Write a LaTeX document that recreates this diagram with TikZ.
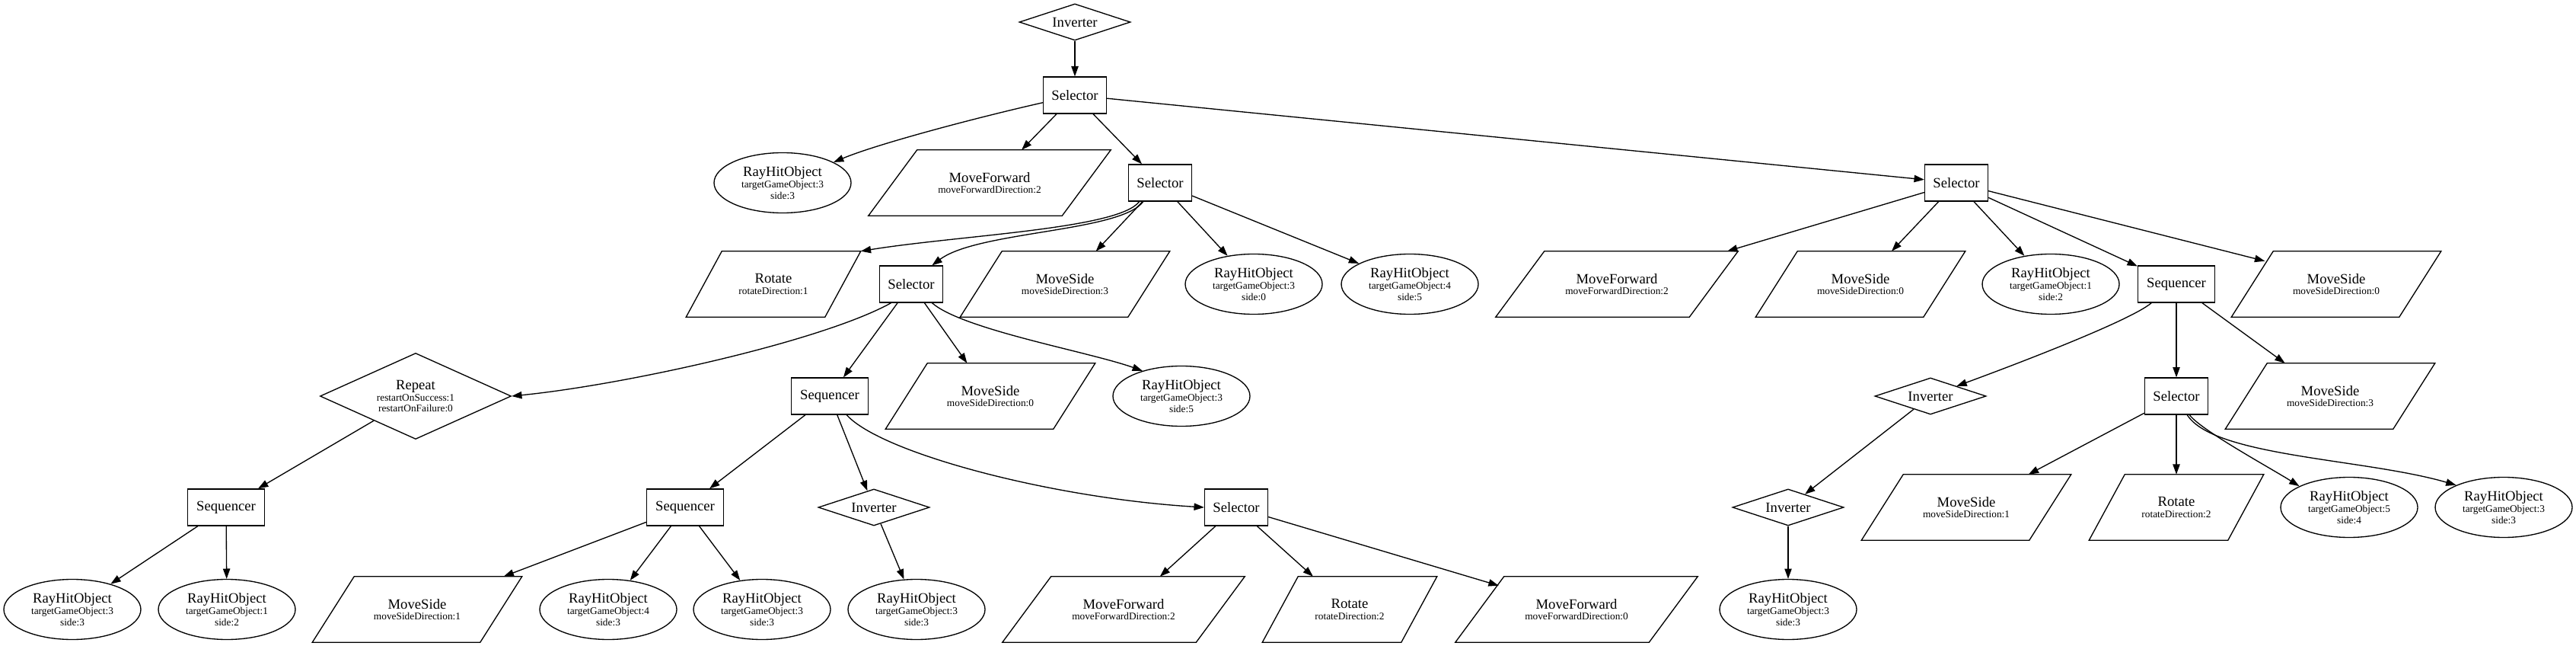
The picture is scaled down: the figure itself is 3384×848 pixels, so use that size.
\documentclass[tikz,border=0pt]{standalone}
\usepackage{fontspec}
\setmainfont{Liberation Serif}
\usetikzlibrary{shapes.geometric,arrows.meta}
\newcommand{\mainlab}[1]{{\fontsize{14}{16}\selectfont #1}}
\newcommand{\pgram}[2]{\draw[line width=1pt, line join=miter] (#1.south west) -- ([xshift=#2]#1.north west) -- (#1.north east) -- ([xshift=-#2]#1.south east) -- cycle;}
\tikzset{
  base/.style={draw, line width=1pt, fill=white, inner sep=0pt, align=center,
               font=\fontsize{10}{11}\selectfont},
  selb/.style={base, rectangle, minimum height=36pt, minimum width=62.25pt, font=\fontsize{14}{16}\selectfont},
  seqb/.style={base, rectangle, minimum height=36pt, minimum width=75.75pt, font=\fontsize{14}{16}\selectfont},
  dia/.style={base, diamond, shape aspect=2, minimum height=36pt, minimum width=109.5pt, font=\fontsize{14}{16}\selectfont},
  repd/.style={base, diamond, shape aspect=2, minimum height=84.75pt, minimum width=188.25pt},
  ell/.style={base, ellipse, minimum width=135pt, minimum height=59.25pt},
  par/.style={rectangle, inner sep=0pt, align=center, font=\fontsize{10}{11}\selectfont, minimum height=64.5pt},
  mf/.style={par, minimum width=238.5pt},
  ms/.style={par, minimum width=206.25pt},
  rot/.style={par, minimum width=171.75pt},
  arr/.style={draw, line width=1pt, -{Triangle[length=10pt,width=7pt]}}
}
\begin{document}
\begin{tikzpicture}[x=0.75pt,y=0.75pt]
\useasboundingbox (0,0) rectangle (3384,-848);
\fill[white] (0,0) rectangle (3384,-848);
% rank 0,1
\node[dia] (inv0) at (1412,-29) {Inverter};
\node[selb] (sel1) at (1412,-125) {Selector};
% rank 2
\node[ell] (rhoa) at (1028,-240) {\mainlab{RayHitObject}\\targetGameObject:3\\side:3};
\node[mf] (mfa) at (1300,-240) {\mainlab{MoveForward}\\moveForwardDirection:2};
\node[selb] (sel2) at (1524,-240) {Selector};
\node[selb] (sel3) at (2570,-240) {Selector};
% rank 3
\node[rot] (rota) at (1016,-373) {\mainlab{Rotate}\\rotateDirection:1};
\node[selb] (sel4) at (1197,-373) {Selector};
\node[ms] (msa) at (1399,-373) {\mainlab{MoveSide}\\moveSideDirection:3};
\node[ell] (rhob) at (1647,-373) {\mainlab{RayHitObject}\\targetGameObject:3\\side:0};
\node[ell] (rhoc) at (1852,-373) {\mainlab{RayHitObject}\\targetGameObject:4\\side:5};
\node[mf] (mfb) at (2124,-373) {\mainlab{MoveForward}\\moveForwardDirection:2};
\node[ms] (msb) at (2444,-373) {\mainlab{MoveSide}\\moveSideDirection:0};
\node[ell] (rhod) at (2694,-373) {\mainlab{RayHitObject}\\targetGameObject:1\\side:2};
\node[seqb] (seqr) at (2859,-373) {Sequencer};
\node[ms] (msc) at (3069,-373) {\mainlab{MoveSide}\\moveSideDirection:0};
% rank 4
\node[repd] (rep) at (546,-520) {\mainlab{Repeat}\\restartOnSuccess:1\\restartOnFailure:0};
\node[seqb] (seqm) at (1090,-520) {Sequencer};
\node[ms] (msd) at (1301,-520) {\mainlab{MoveSide}\\moveSideDirection:0};
\node[ell] (rhoe) at (1552,-520) {\mainlab{RayHitObject}\\targetGameObject:3\\side:5};
\node[dia] (invr1) at (2536,-520) {Inverter};
\node[selb] (selr) at (2859,-520) {Selector};
\node[ms] (mse) at (3061,-520) {\mainlab{MoveSide}\\moveSideDirection:3};
% rank 5
\node[seqb] (seql) at (297,-666) {Sequencer};
\node[seqb] (seqlo) at (900,-666) {Sequencer};
\node[dia] (invm) at (1148,-666) {Inverter};
\node[selb] (sello) at (1624,-666) {Selector};
\node[dia] (invr2) at (2349,-666) {Inverter};
\node[ms] (msf) at (2583,-666) {\mainlab{MoveSide}\\moveSideDirection:1};
\node[rot] (rotb) at (2859,-666) {\mainlab{Rotate}\\rotateDirection:2};
\node[ell] (rhof) at (3086,-666) {\mainlab{RayHitObject}\\targetGameObject:5\\side:4};
\node[ell] (rhog) at (3289,-666) {\mainlab{RayHitObject}\\targetGameObject:3\\side:3};
% rank 6
\node[ell] (rhoh) at (95,-800) {\mainlab{RayHitObject}\\targetGameObject:3\\side:3};
\node[ell] (rhoi) at (298,-800) {\mainlab{RayHitObject}\\targetGameObject:1\\side:2};
\node[ms] (msg) at (548,-800) {\mainlab{MoveSide}\\moveSideDirection:1};
\node[ell] (rhoj) at (799,-800) {\mainlab{RayHitObject}\\targetGameObject:4\\side:3};
\node[ell] (rhok) at (1001,-800) {\mainlab{RayHitObject}\\targetGameObject:3\\side:3};
\node[ell] (rhol) at (1204,-800) {\mainlab{RayHitObject}\\targetGameObject:3\\side:3};
\node[mf] (mfc) at (1476,-800) {\mainlab{MoveForward}\\moveForwardDirection:2};
\node[rot] (rotc) at (1773,-800) {\mainlab{Rotate}\\rotateDirection:2};
\node[mf] (mfd) at (2071,-800) {\mainlab{MoveForward}\\moveForwardDirection:0};
\node[ell] (rhom) at (2349,-800) {\mainlab{RayHitObject}\\targetGameObject:3\\side:3};
% parallelogram outlines
\pgram{mfa}{48pt} \pgram{mfb}{48pt} \pgram{mfc}{48pt} \pgram{mfd}{48pt}
\pgram{msa}{41.25pt} \pgram{msb}{41.25pt} \pgram{msc}{41.25pt} \pgram{msd}{41.25pt}
\pgram{mse}{41.25pt} \pgram{msf}{41.25pt} \pgram{msg}{41.25pt}
\pgram{rota}{35.25pt} \pgram{rotb}{35.25pt} \pgram{rotc}{35.25pt}
% edges
\draw[arr] (inv0) -- (sel1);
\draw[arr] (sel1.193) .. controls +(-80,-18) and +(60,25) .. (rhoa.22);
\draw[arr] (sel1) -- (mfa);
\draw[arr] (sel1) -- (sel2);
\draw[arr] (sel1) -- (sel3);
\draw[arr] (sel2.222) .. controls +(-27,-36) and +(130,21) .. (rota.north east);
\draw[arr] (sel2.228) .. controls +(-30,-40) and +(60,45) .. (sel4.42);
\draw[arr] (sel2) -- (msa);
\draw[arr] (sel2) -- (rhob);
\draw[arr] (sel2) -- (rhoc);
\draw[arr] (sel4.223) .. controls +(-90,-50) and +(150,15) .. (rep.east);
\draw[arr] (sel4) -- (seqm);
\draw[arr] (sel4) -- (msd);
\draw[arr] (sel4.318) .. controls +(40,-35) and +(-70,25) .. (rhoe.147);
\draw[arr] (rep) -- (seql);
\draw[arr] (seql) -- (rhoh);
\draw[arr] (seql) -- (rhoi);
\draw[arr] (seqm) -- (seqlo);
\draw[arr] (seqm) -- (invm);
\draw[arr] (seqm.312) .. controls +(45,-50) and +(-200,12) .. (sello.west);
\draw[arr] (seqlo) -- (msg);
\draw[arr] (seqlo) -- (rhoj);
\draw[arr] (seqlo) -- (rhok);
\draw[arr] (invm) -- (rhol);
\draw[arr] (sello) -- (mfc);
\draw[arr] (sello) -- (rotc);
\draw[arr] (sello) -- ([xshift=42.75pt,yshift=-9pt]mfd.north west);
\draw[arr] (sel3) -- (mfb);
\draw[arr] (sel3) -- (msb);
\draw[arr] (sel3) -- (rhod);
\draw[arr] (sel3) -- (seqr);
\draw[arr] (sel3) -- ([xshift=33pt,yshift=-9.75pt]msc.north west);
\draw[arr] (seqr.217) .. controls +(-30,-25) and +(60,22) .. (invr1.21);
\draw[arr] (seqr) -- (selr);
\draw[arr] (seqr) -- (mse);
\draw[arr] (invr1) -- (invr2);
\draw[arr] (invr2) -- (rhom);
\draw[arr] (selr) -- (msf);
\draw[arr] (selr) -- (rotb);
\draw[arr] (selr.305) .. controls +(15,-20) and +(-40,25) .. (rhof.157);
\draw[arr] (selr.300) .. controls +(35,-55) and +(-120,35) .. (rhog.155);
\end{tikzpicture}
\end{document}
